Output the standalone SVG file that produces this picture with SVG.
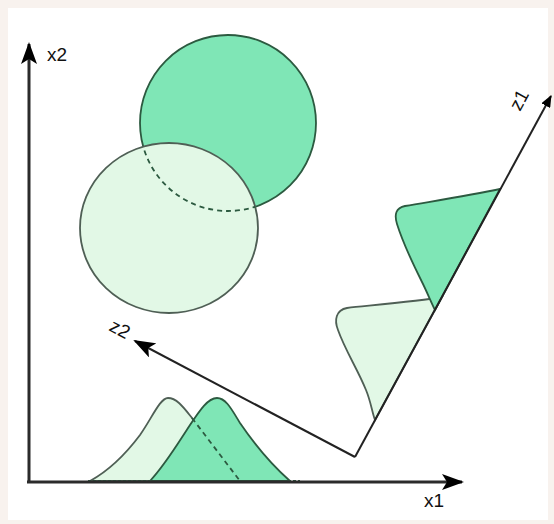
<svg xmlns="http://www.w3.org/2000/svg" width="554" height="524" viewBox="0 0 554 524">
<style>
.axis{stroke:#2b2b2b;stroke-width:3;fill:none}
.zax{stroke:#222;stroke-width:2;fill:none}
.light{fill:#e2f8e6;stroke:#4f5f55;stroke-width:1.8}
.dark{fill:#7fe6b6;stroke:#2c5a40;stroke-width:1.8}
.dash{fill:none;stroke:#2c5a40;stroke-width:1.8;stroke-dasharray:5 4}
.lbl{font-family:"Liberation Sans",Arial,sans-serif;font-size:19px;fill:#111;text-anchor:middle;dominant-baseline:central}
</style>
<defs>
<marker id="ah" markerUnits="userSpaceOnUse" markerWidth="22" markerHeight="16" refX="20" refY="8" orient="auto" viewBox="0 0 22 16">
<path d="M0,0 L22,8 L0,16 L5,8 Z" fill="#000"/>
</marker>
<marker id="ahs" markerUnits="userSpaceOnUse" markerWidth="12" markerHeight="10" refX="11" refY="5" orient="auto" viewBox="0 0 12 10">
<path d="M0,0 L12,5 L0,10 Z" fill="#000"/>
</marker>
<clipPath id="lc"><ellipse cx="169" cy="228" rx="89" ry="85"/></clipPath>
</defs>
<rect width="554" height="524" fill="#f8f2ee"/>
<rect x="8" y="8" width="540" height="512" fill="#ffffff"/>

<g id="class2-circle">
<circle class="dark" cx="228" cy="123" r="88"/>
</g>
<g id="class1-circle">
<ellipse class="light" cx="169" cy="228" rx="89" ry="85"/>
<circle class="dash" cx="228" cy="123" r="88" clip-path="url(#lc)"/>
</g>

<g id="x1-distributions">
<path class="light" d="M90,481 C110,470 125,455 140,435 C152,418 160,398 168,398 C177,398 184,408 192,418 L240,481 Z"/>
<path class="dark" d="M150,481 C165,465 175,448 190,425 C200,410 208,398 217,398 C226,398 232,410 240,423 C255,445 272,465 290,481 Z"/>
<path class="dash" d="M192,418 L240,481"/>
<path d="M88,481 L300,481" stroke="#2c5a40" stroke-width="2" stroke-dasharray="3 2"/>
</g>

<g id="z1-distributions">
<path class="light" d="M442,297 C420,301 375,305 347,308 C336,310 334,320 338,330 C345,350 358,370 366,390 C371,402 372,412 375,420 Z"/>
<path class="dark" d="M500,189 C472,195 440,200 405,206 C396,208 394,214 397,224 C402,240 412,262 422,282 C427,292 431,302 435,310 Z"/>
</g>

<g id="connectors">
<path class="axis" d="M29,483 L29,44" marker-end="url(#ah)"/>
<path class="axis" d="M27,482 L462,482" marker-end="url(#ah)"/>
<path class="zax" d="M355,457 L135,341" marker-end="url(#ah)"/>
<path class="zax" d="M355,457 L551,96" marker-end="url(#ahs)"/>
</g>

<g id="labels">
<text class="lbl" x="57" y="54">x2</text>
<text class="lbl" x="434" y="500">x1</text>
<text class="lbl" x="519" y="100" transform="rotate(-61.5 519 100)">z1</text>
<text class="lbl" x="120" y="329" transform="rotate(28 120 329)">z2</text>
</g>
</svg>
